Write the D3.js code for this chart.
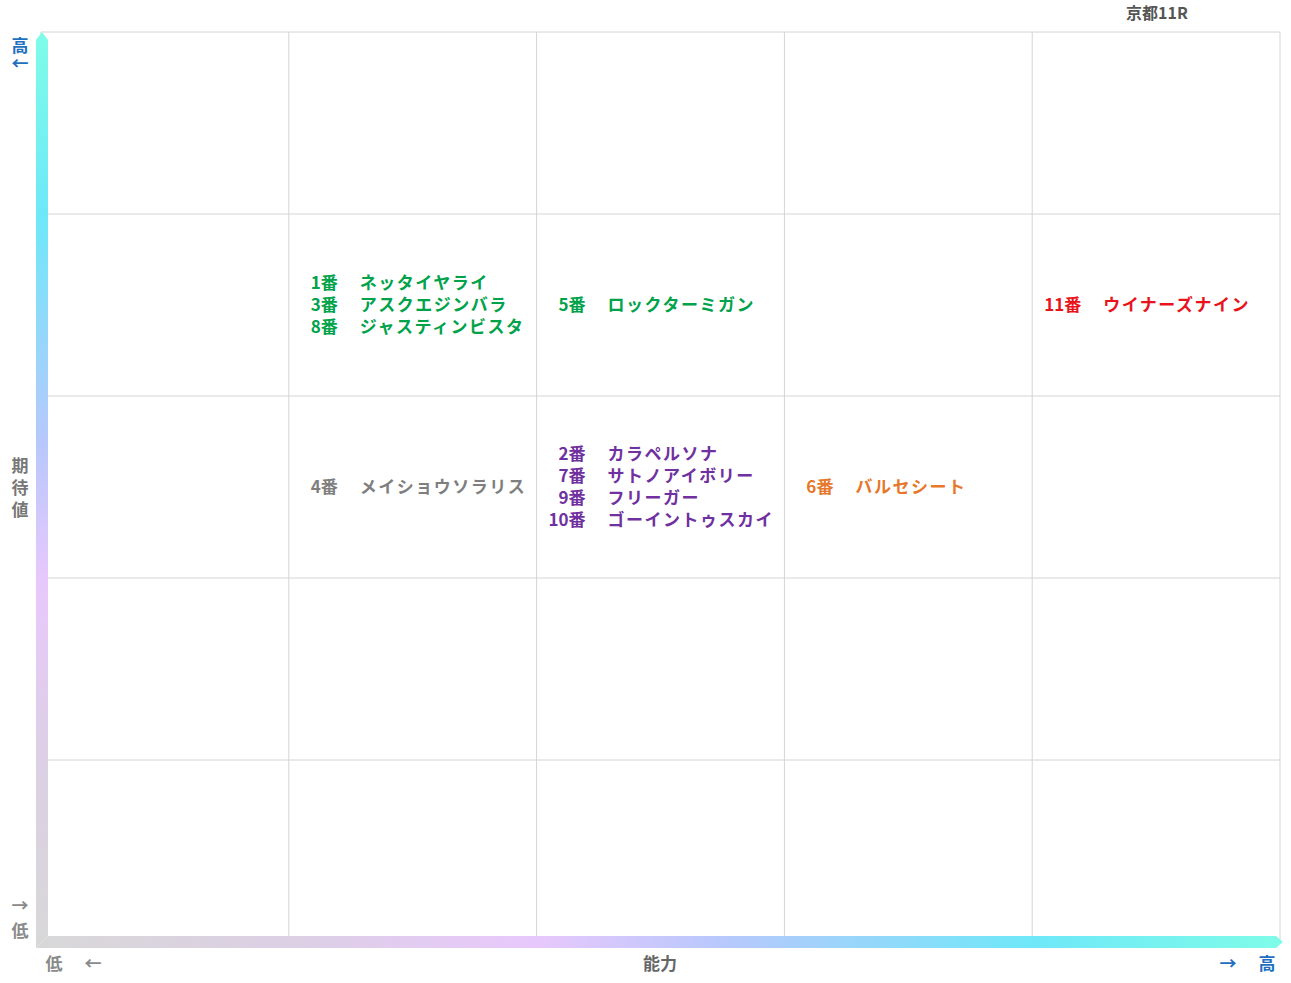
<!DOCTYPE html><html><head><meta charset="utf-8"><script src="https://cdn.jsdelivr.net/npm/d3@7"></script>
<style>body{margin:0;background:#fff}svg{display:block}text{font-family:"Noto Sans CJK JP";font-weight:bold}</style></head><body><svg width="1291" height="983"></svg>
<script>
const levels=[1,2,3,4,5];
const horses=[
{no:"1番",name:"ネッタイヤライ",ability:2,expect:4,group:"g"},
{no:"3番",name:"アスクエジンバラ",ability:2,expect:4,group:"g"},
{no:"8番",name:"ジャスティンビスタ",ability:2,expect:4,group:"g"},
{no:"5番",name:"ロックターミガン",ability:3,expect:4,group:"g"},
{no:"11番",name:"ウイナーズナイン",ability:5,expect:4,group:"r"},
{no:"4番",name:"メイショウソラリス",ability:2,expect:3,group:"k"},
{no:"2番",name:"カラペルソナ",ability:3,expect:3,group:"p"},
{no:"7番",name:"サトノアイボリー",ability:3,expect:3,group:"p"},
{no:"9番",name:"フリーガー",ability:3,expect:3,group:"p"},
{no:"10番",name:"ゴーイントゥスカイ",ability:3,expect:3,group:"p"},
{no:"6番",name:"バルセシート",ability:4,expect:3,group:"o"}];
const colors={g:"#00a24a",r:"#e8141c",k:"#7f7f7f",p:"#7030a0",o:"#e6772b"};
const svg=d3.select("svg");
const L=41,R=1280,T=32,B=942;
const x=d3.scaleBand().domain(levels).range([L,R]);
const y=d3.scaleBand().domain(levels).range([B,T]);
const g=svg.append("g");
[...levels.map(v=>x(v)),R].forEach(px=>g.append("line").attr("x1",px).attr("x2",px).attr("y1",T).attr("y2",B).attr("stroke","#d4d4d4"));
[...levels.map(v=>y(v)),B].forEach(py=>g.append("line").attr("x1",L).attr("x2",R).attr("y1",py).attr("y2",py).attr("stroke","#d4d4d4"));
const defs=svg.append("defs");
const vg=defs.append("linearGradient").attr("id","vg").attr("x1",0).attr("x2",0).attr("y1",0).attr("y2",1);
[[0,"#7ffce8"],[0.2,"#6ee8f8"],[0.45,"#b8c8fc"],[0.6,"#e8c8fc"],[0.8,"#dcd0e4"],[1,"#d8d8d8"]].forEach(s=>vg.append("stop").attr("offset",s[0]).attr("stop-color",s[1]));
const hg=defs.append("linearGradient").attr("id","hg").attr("x1",0).attr("x2",1).attr("y1",0).attr("y2",0);
[[0,"#d8d8d8"],[0.2,"#dcd0e4"],[0.4,"#e8c8fc"],[0.55,"#b8c8fc"],[0.8,"#6ee8f8"],[1,"#7ffce8"]].forEach(s=>hg.append("stop").attr("offset",s[0]).attr("stop-color",s[1]));
svg.append("path").attr("d",`M36,${B+6} L36,40 L42,32 L48,40 L48,${B-6} Z`).attr("fill","url(#vg)");
svg.append("path").attr("d",`M36,${B+6} L48,${B-6} L1276,${B-6} L1283,${B} L1276,${B+6} Z`).attr("fill","url(#hg)");
const groups=d3.groups(horses,h=>h.ability+"_"+h.expect);
groups.forEach(([k,arr])=>{
  const cx=x(arr[0].ability), cy=y(arr[0].expect)+y.bandwidth()/2;
  arr.forEach((h,i)=>{
    const yy=cy+(i-(arr.length-1)/2)*22+6;
    g.append("text").attr("x",cx+49).attr("y",yy).attr("text-anchor","end").attr("font-size",17).attr("fill",colors[h.group]).text(h.no);
    g.append("text").attr("x",cx+71).attr("y",yy).attr("font-size",17).attr("letter-spacing",1.5).attr("fill",colors[h.group]).text(h.name);
  });
});
const blue="#1f6fc0",gray="#8a8a8a";
const t=(px,py,s,c,fs)=>svg.append("text").attr("x",px).attr("y",py).attr("text-anchor","middle").attr("font-size",fs||17).attr("fill",c).text(s);
t(20,52,"高",blue); t(20,70,"←",blue);
t(20,912,"→",gray); t(20,937,"低",gray);
["期","待","値"].forEach((c,i)=>t(20,472+i*22,c,"#777"));
t(54,970,"低",gray); t(93,970,"←",gray);
t(660,970,"能力","#666");
t(1228,970,"→",blue); t(1267,970,"高",blue);
t(1157,19,"京都11R","#555",16);
</script></body></html>
